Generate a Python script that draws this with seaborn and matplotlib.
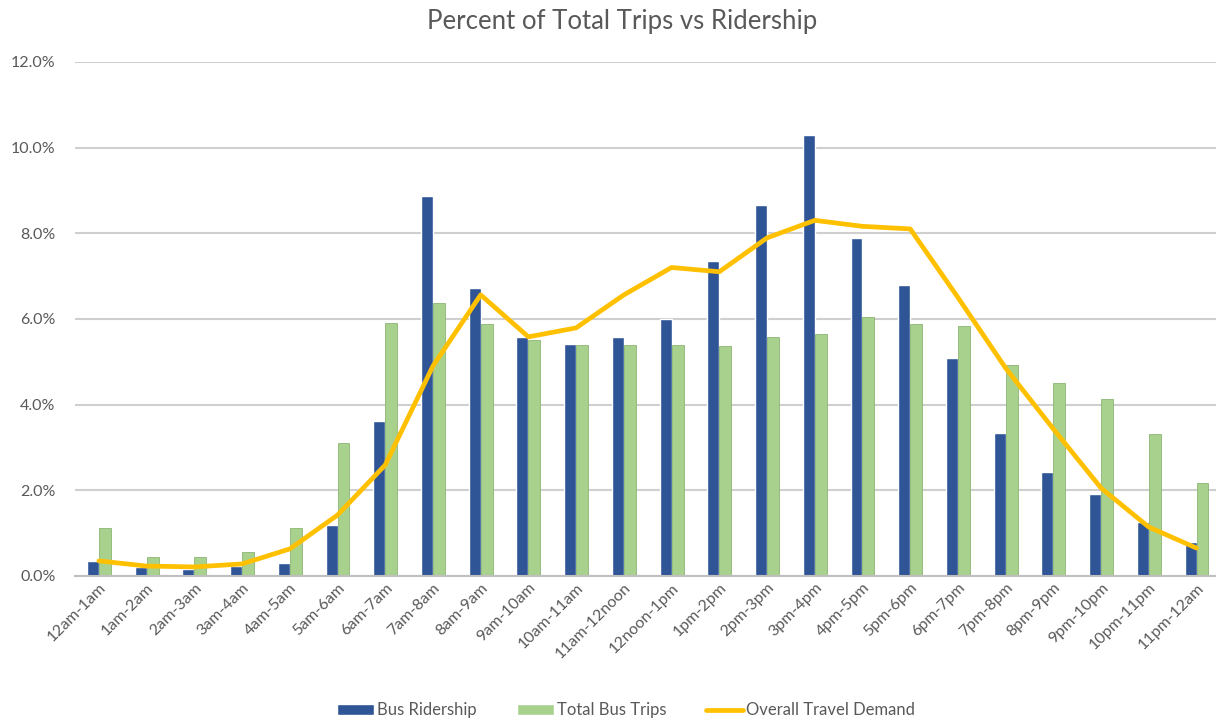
import numpy as np
import pandas as pd
import matplotlib
matplotlib.use("Agg")
import matplotlib.pyplot as plt
import seaborn as sns
from matplotlib.ticker import FuncFormatter, MultipleLocator
from matplotlib.patches import Patch
from matplotlib.lines import Line2D

# ---------------- data (percent) ----------------
hours = ["12am-1am", "1am-2am", "2am-3am", "3am-4am", "4am-5am", "5am-6am",
         "6am-7am", "7am-8am", "8am-9am", "9am-10am", "10am-11am", "11am-12noon",
         "12noon-1pm", "1pm-2pm", "2pm-3pm", "3pm-4pm", "4pm-5pm", "5pm-6pm",
         "6pm-7pm", "7pm-8pm", "8pm-9pm", "9pm-10pm", "10pm-11pm", "11pm-12am"]
bus_ridership = [0.35, 0.20, 0.17, 0.22, 0.30, 1.19, 3.62, 8.87, 6.72, 5.58, 5.42, 5.58,
                 6.00, 7.35, 8.66, 10.30, 7.89, 6.79, 5.09, 3.34, 2.43, 1.91, 1.26, 0.79]
total_bus_trips = [1.12, 0.43, 0.43, 0.55, 1.12, 3.10, 5.90, 6.38, 5.88, 5.51, 5.39, 5.39,
                   5.39, 5.37, 5.58, 5.65, 6.05, 5.88, 5.84, 4.93, 4.50, 4.13, 3.32, 2.17]
travel_demand = [0.35, 0.23, 0.21, 0.28, 0.63, 1.42, 2.59, 4.90, 6.56, 5.58, 5.79, 6.56,
                 7.20, 7.10, 7.89, 8.30, 8.16, 8.10, 6.50, 4.85, 3.43, 2.05, 1.14, 0.65]

series_names = ["Bus Ridership", "Total Bus Trips"]
df = pd.DataFrame({
    "hour": hours * 2,
    "series": [series_names[0]] * len(hours) + [series_names[1]] * len(hours),
    "value": bus_ridership + total_bus_trips,
})

blue = "#2F5597"
green = "#A9D18E"
yellow = "#FFC000"
txt = "#595959"

sns.set_theme(style="white")
plt.rcParams["font.family"] = ["Lato", "DejaVu Sans"]

fig = plt.figure(figsize=(12.16, 7.19), dpi=100)
ax = fig.add_axes([0.0617, 0.199, 0.938, 0.715])

sns.barplot(data=df, x="hour", y="value", hue="series", order=hours,
            hue_order=series_names, palette=[blue, green], width=0.5, gap=0,
            ax=ax, legend=False, saturation=1)
for p in ax.patches:
    if p.get_facecolor()[:3] == matplotlib.colors.to_rgb(green):
        p.set_edgecolor("#8DB573")
        p.set_linewidth(0.6)

sns.lineplot(x=np.arange(len(hours)), y=travel_demand, color=yellow,
             linewidth=3.4, ax=ax, solid_capstyle="round", solid_joinstyle="round")

ax.set_ylim(0, 12)
ax.set_xlim(-0.5, 23.4)
ax.yaxis.set_major_locator(MultipleLocator(2))
ax.yaxis.set_major_formatter(FuncFormatter(lambda v, _: f"{v:.1f}%"))
ax.grid(axis="y", color="#CFCFCF", linewidth=1.5)
ax.set_axisbelow(True)
for s in ["left", "right", "top"]:
    ax.spines[s].set_visible(False)
ax.spines["bottom"].set_color("#BFBFBF")
ax.spines["bottom"].set_linewidth(1.5)

ax.set_xlabel("")
ax.set_ylabel("")
ax.tick_params(axis="both", length=0, colors=txt, labelsize=11.5)
ax.tick_params(axis="y", pad=14)
plt.setp(ax.get_xticklabels(), rotation=45, ha="right", rotation_mode="anchor")

fig.suptitle("Percent of Total Trips vs Ridership", x=0.512, y=0.987,
             fontsize=18.5, color=txt)

handles = [Patch(facecolor=blue), Patch(facecolor=green),
           Line2D([0], [0], color=yellow, linewidth=3.4)]
fig.legend(handles, series_names + ["Overall Travel Demand"], loc="lower center",
           bbox_to_anchor=(0.515, -0.02), ncol=3, frameon=False, fontsize=12,
           labelcolor=txt, handlelength=2.2, handletextpad=0.2, columnspacing=2.4)

fig.savefig("out.png", dpi=100)
